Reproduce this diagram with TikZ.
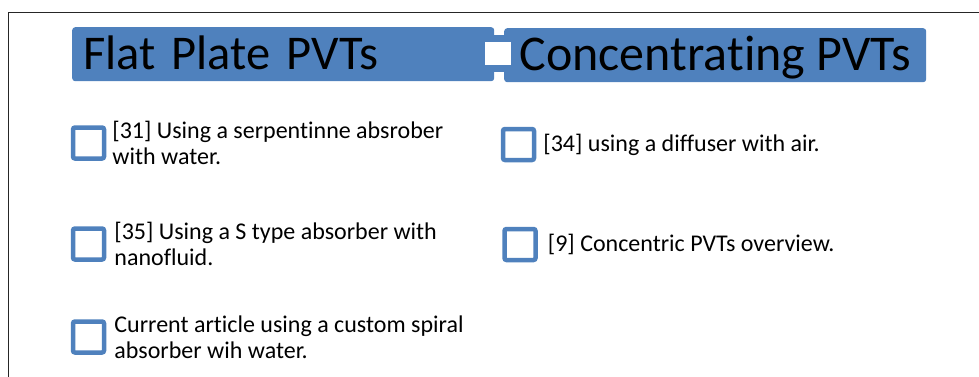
\documentclass[tikz,border=0pt]{standalone}
\usepackage{fontspec}
\setmainfont{Carlito}[Ligatures={NoCommon}]
\usepackage{xcolor}
\usetikzlibrary{positioning}
\definecolor{accblue}{HTML}{4F81BD}

\begin{document}
\begin{tikzpicture}[x=1pt, y=-1pt,
  titlebar/.style={fill=accblue, rectangle, rounded corners=3pt,
                   font=\fontsize{48.5}{58}\selectfont,
                   minimum width=422pt, minimum height=54pt, inner ysep=0pt,
                   text height=31pt, text depth=0pt, anchor=north west},
  chk/.style={draw=accblue, line width=4.5pt, rectangle, rounded corners=2pt,
              fill=white, minimum size=31pt, inner sep=0pt},
  itemtxt/.style={font=\fontsize{24}{26}\selectfont, align=left,
                  inner sep=0pt},
  node distance=7pt
]
\useasboundingbox (0,0) rectangle (979,376);
\draw[line width=1.5pt, black!85] (8.5,390) -- (8.5,12.5) -- (990,12.5);

\node[fill=accblue, minimum width=10pt, minimum height=37pt, inner sep=0pt,
      anchor=north west] (joint) at (494,35) {};
\node[titlebar, text width=400pt, align=left, inner xsep=11pt] (flat)
     at (72,27) {Flat Plate PVTs};
\node[titlebar, font=\fontsize{50}{60}\selectfont, xshift=-1pt] (conc)
     at (505,28) {Concentrating PVTs};
\node[fill=white, minimum width=26pt, minimum height=23pt, inner sep=0pt,
      anchor=north west] (jointsq) at (485,42) {};

\node[chk] (fp1) at (88.5,143) {};
\node[itemtxt, right=6pt of fp1] (fp1txt)
     {[31] Using a serpentinne absrober\\with water.};
\node[chk] (fp2) at (88.5,244) {};
\node[itemtxt, right=8pt of fp2] (fp2txt)
     {[35] Using a S type absorber with\\nanofluid.};
\node[chk] (fp3) at (88.5,337) {};
\node[itemtxt, right=8pt of fp3] (fp3txt)
     {Current article using a custom spiral\\absorber wih water.};

\node[chk] (cp1) at (518.5,144.5) {};
\node[itemtxt, right=7pt of cp1] (cp1txt) {[34] using a diffuser with air.};
\node[chk] (cp2) at (520,244.5) {};
\node[itemtxt, right=10pt of cp2] (cp2txt) {[9] Concentric PVTs overview.};
\end{tikzpicture}
\end{document}
